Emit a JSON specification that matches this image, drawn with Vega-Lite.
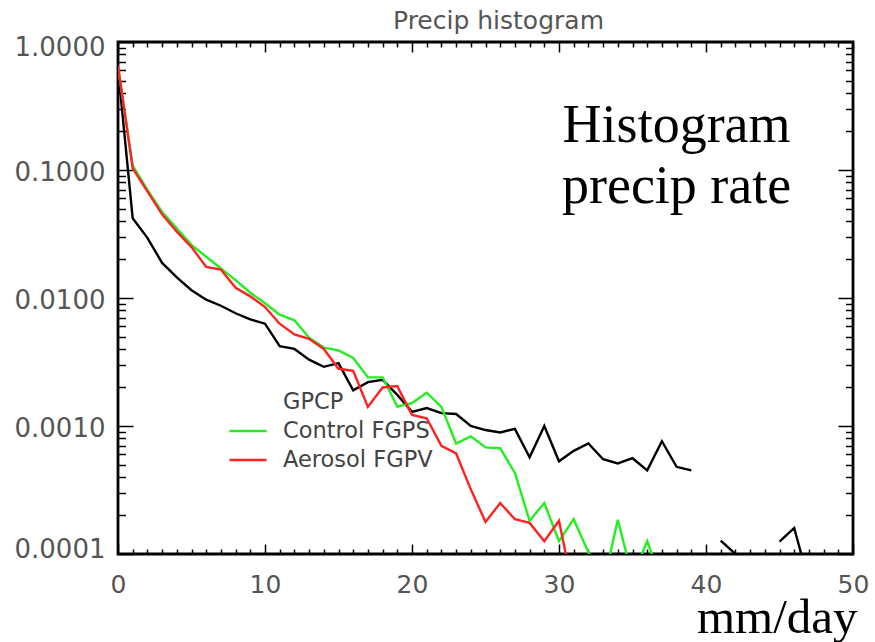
{
  "$schema": "https://vega.github.io/schema/vega-lite/v6.json",
  "width": 735,
  "height": 512,
  "autosize": {"type": "none"},
  "padding": {"left": 118, "top": 42, "right": 22, "bottom": 88},
  "background": "white",
  "title": {
    "text": "Precip histogram",
    "frame": "group",
    "font": "DejaVu Sans",
    "fontSize": 25,
    "fontWeight": "normal",
    "color": "#555555",
    "anchor": "middle",
    "baseline": "alphabetic",
    "offset": 13,
    "dx": 13,
    "dy": 33
  },
  "config": {"view": {"stroke": "black", "strokeWidth": 2.8}},
  "datasets": {
    "hist": [
      {"x": 0, "series": "GPCP", "v": 0.62},
      {"x": 1, "series": "GPCP", "v": 0.042},
      {"x": 2, "series": "GPCP", "v": 0.0295},
      {"x": 3, "series": "GPCP", "v": 0.0188},
      {"x": 4, "series": "GPCP", "v": 0.0145},
      {"x": 5, "series": "GPCP", "v": 0.0115},
      {"x": 6, "series": "GPCP", "v": 0.0097},
      {"x": 7, "series": "GPCP", "v": 0.0087},
      {"x": 8, "series": "GPCP", "v": 0.0076},
      {"x": 9, "series": "GPCP", "v": 0.0068},
      {"x": 10, "series": "GPCP", "v": 0.0063},
      {"x": 11, "series": "GPCP", "v": 0.0042},
      {"x": 12, "series": "GPCP", "v": 0.0040},
      {"x": 13, "series": "GPCP", "v": 0.0033},
      {"x": 14, "series": "GPCP", "v": 0.0029},
      {"x": 15, "series": "GPCP", "v": 0.0031},
      {"x": 16, "series": "GPCP", "v": 0.0019},
      {"x": 17, "series": "GPCP", "v": 0.0022},
      {"x": 18, "series": "GPCP", "v": 0.0023},
      {"x": 19, "series": "GPCP", "v": 0.00175},
      {"x": 20, "series": "GPCP", "v": 0.00129},
      {"x": 21, "series": "GPCP", "v": 0.00138},
      {"x": 22, "series": "GPCP", "v": 0.00126},
      {"x": 23, "series": "GPCP", "v": 0.00124},
      {"x": 24, "series": "GPCP", "v": 0.0010},
      {"x": 25, "series": "GPCP", "v": 0.00093},
      {"x": 26, "series": "GPCP", "v": 0.00089},
      {"x": 27, "series": "GPCP", "v": 0.00095},
      {"x": 28, "series": "GPCP", "v": 0.00057},
      {"x": 29, "series": "GPCP", "v": 0.0010},
      {"x": 30, "series": "GPCP", "v": 0.00053},
      {"x": 31, "series": "GPCP", "v": 0.00064},
      {"x": 32, "series": "GPCP", "v": 0.00073},
      {"x": 33, "series": "GPCP", "v": 0.00055},
      {"x": 34, "series": "GPCP", "v": 0.00051},
      {"x": 35, "series": "GPCP", "v": 0.00056},
      {"x": 36, "series": "GPCP", "v": 0.00045},
      {"x": 37, "series": "GPCP", "v": 0.00076},
      {"x": 38, "series": "GPCP", "v": 0.00048},
      {"x": 39, "series": "GPCP", "v": 0.00045},
      {"x": 40, "series": "GPCP", "v": null},
      {"x": 41, "series": "GPCP", "v": 0.000127},
      {"x": 42, "series": "GPCP", "v": 0.0001},
      {"x": 43, "series": "GPCP", "v": null},
      {"x": 44, "series": "GPCP", "v": null},
      {"x": 45, "series": "GPCP", "v": 0.000125},
      {"x": 46, "series": "GPCP", "v": 0.00016},
      {"x": 47, "series": "GPCP", "v": 0.00006},
      {"x": 0, "series": "Control FGPS", "v": 0.65},
      {"x": 1, "series": "Control FGPS", "v": 0.108},
      {"x": 2, "series": "Control FGPS", "v": 0.070},
      {"x": 3, "series": "Control FGPS", "v": 0.047},
      {"x": 4, "series": "Control FGPS", "v": 0.035},
      {"x": 5, "series": "Control FGPS", "v": 0.026},
      {"x": 6, "series": "Control FGPS", "v": 0.021},
      {"x": 7, "series": "Control FGPS", "v": 0.017},
      {"x": 8, "series": "Control FGPS", "v": 0.0138},
      {"x": 9, "series": "Control FGPS", "v": 0.011},
      {"x": 10, "series": "Control FGPS", "v": 0.0091},
      {"x": 11, "series": "Control FGPS", "v": 0.0074},
      {"x": 12, "series": "Control FGPS", "v": 0.0067},
      {"x": 13, "series": "Control FGPS", "v": 0.0049},
      {"x": 14, "series": "Control FGPS", "v": 0.0041},
      {"x": 15, "series": "Control FGPS", "v": 0.0039},
      {"x": 16, "series": "Control FGPS", "v": 0.0034},
      {"x": 17, "series": "Control FGPS", "v": 0.0024},
      {"x": 18, "series": "Control FGPS", "v": 0.0024},
      {"x": 19, "series": "Control FGPS", "v": 0.00142},
      {"x": 20, "series": "Control FGPS", "v": 0.00151},
      {"x": 21, "series": "Control FGPS", "v": 0.00182},
      {"x": 22, "series": "Control FGPS", "v": 0.00141},
      {"x": 23, "series": "Control FGPS", "v": 0.00073},
      {"x": 24, "series": "Control FGPS", "v": 0.00083},
      {"x": 25, "series": "Control FGPS", "v": 0.00068},
      {"x": 26, "series": "Control FGPS", "v": 0.00067},
      {"x": 27, "series": "Control FGPS", "v": 0.00043},
      {"x": 28, "series": "Control FGPS", "v": 0.000182},
      {"x": 29, "series": "Control FGPS", "v": 0.00025},
      {"x": 30, "series": "Control FGPS", "v": 0.000126},
      {"x": 31, "series": "Control FGPS", "v": 0.000187},
      {"x": 32, "series": "Control FGPS", "v": 0.000103},
      {"x": 33, "series": "Control FGPS", "v": 0.000057},
      {"x": 34, "series": "Control FGPS", "v": 0.000185},
      {"x": 35, "series": "Control FGPS", "v": 0.000066},
      {"x": 36, "series": "Control FGPS", "v": 0.000126},
      {"x": 37, "series": "Control FGPS", "v": 0.00006},
      {"x": 0, "series": "Aerosol FGPV", "v": 0.65},
      {"x": 1, "series": "Aerosol FGPV", "v": 0.103},
      {"x": 2, "series": "Aerosol FGPV", "v": 0.068},
      {"x": 3, "series": "Aerosol FGPV", "v": 0.045},
      {"x": 4, "series": "Aerosol FGPV", "v": 0.033},
      {"x": 5, "series": "Aerosol FGPV", "v": 0.025},
      {"x": 6, "series": "Aerosol FGPV", "v": 0.0175},
      {"x": 7, "series": "Aerosol FGPV", "v": 0.0167},
      {"x": 8, "series": "Aerosol FGPV", "v": 0.0120},
      {"x": 9, "series": "Aerosol FGPV", "v": 0.0103},
      {"x": 10, "series": "Aerosol FGPV", "v": 0.0085},
      {"x": 11, "series": "Aerosol FGPV", "v": 0.0063},
      {"x": 12, "series": "Aerosol FGPV", "v": 0.0052},
      {"x": 13, "series": "Aerosol FGPV", "v": 0.0048},
      {"x": 14, "series": "Aerosol FGPV", "v": 0.0040},
      {"x": 15, "series": "Aerosol FGPV", "v": 0.0028},
      {"x": 16, "series": "Aerosol FGPV", "v": 0.0027},
      {"x": 17, "series": "Aerosol FGPV", "v": 0.00141},
      {"x": 18, "series": "Aerosol FGPV", "v": 0.0020},
      {"x": 19, "series": "Aerosol FGPV", "v": 0.00205},
      {"x": 20, "series": "Aerosol FGPV", "v": 0.00122},
      {"x": 21, "series": "Aerosol FGPV", "v": 0.00115},
      {"x": 22, "series": "Aerosol FGPV", "v": 0.00070},
      {"x": 23, "series": "Aerosol FGPV", "v": 0.00061},
      {"x": 24, "series": "Aerosol FGPV", "v": 0.00032},
      {"x": 25, "series": "Aerosol FGPV", "v": 0.000178},
      {"x": 26, "series": "Aerosol FGPV", "v": 0.00025},
      {"x": 27, "series": "Aerosol FGPV", "v": 0.000187},
      {"x": 28, "series": "Aerosol FGPV", "v": 0.000175},
      {"x": 29, "series": "Aerosol FGPV", "v": 0.000126},
      {"x": 30, "series": "Aerosol FGPV", "v": 0.000182},
      {"x": 31, "series": "Aerosol FGPV", "v": 0.00005}
    ],
    "notes": [
      {"x": 38, "v": 0.1655, "t": "Histogram"},
      {"x": 38, "v": 0.0552, "t": "precip rate"}
    ],
    "keys": [
      {"series": "GPCP"},
      {"series": "Control FGPS"},
      {"series": "Aerosol FGPV"}
    ]
  },
  "layer": [
    {
      "data": {"name": "hist"},
      "mark": {"type": "line", "strokeWidth": 2.4, "clip": true, "invalid": "break-paths-filter-domains"},
      "encoding": {
        "x": {
          "field": "x",
          "type": "quantitative",
          "scale": {"domain": [0, 50], "nice": false, "zero": false},
          "axis": {
            "orient": "bottom",
            "values": [0,1,2,3,4,5,6,7,8,9,10,11,12,13,14,15,16,17,18,19,20,21,22,23,24,25,26,27,28,29,30,31,32,33,34,35,36,37,38,39,40,41,42,43,44,45,46,47,48,49,50],
            "format": "d",
            "labelExpr": "datum.value % 10 === 0 ? datum.label : ''",
            "tickSize": {"condition": {"test": "datum.value % 10 === 0", "value": -10}, "value": -5},
            "tickWidth": 1.5,
            "tickColor": "black",
            "domain": false,
            "grid": false,
            "labelFont": "DejaVu Sans",
            "labelFontSize": 25,
            "labelColor": "#555555",
            "labelPadding": 28,
            "labelOverlap": false,
            "labelFlush": false,
            "title": "mm/day",
            "titleFont": "Liberation Serif",
            "titleFontSize": 49,
            "titleFontWeight": "normal",
            "titleColor": "black",
            "titleAnchor": "end",
            "titleAlign": "right",
            "titleBaseline": "alphabetic",
            "titleX": 739,
            "titleY": 78
          }
        },
        "y": {
          "field": "v",
          "type": "quantitative",
          "scale": {"type": "log", "domain": [0.0001, 1], "nice": false},
          "axis": {
            "orient": "left",
            "values": [0.0001,0.0002,0.0003,0.0004,0.0005,0.0006,0.0007,0.0008,0.0009,0.001,0.002,0.003,0.004,0.005,0.006,0.007,0.008,0.009,0.01,0.02,0.03,0.04,0.05,0.06,0.07,0.08,0.09,0.1,0.2,0.3,0.4,0.5,0.6,0.7,0.8,0.9,1],
            "labelExpr": "abs(log(datum.value) / LN10 - round(log(datum.value) / LN10)) < 0.001 ? format(datum.value, '.4f') : ''",
            "tickSize": {"condition": {"test": "abs(log(datum.value) / LN10 - round(log(datum.value) / LN10)) < 0.001", "value": -15}, "value": -7.5},
            "tickWidth": 1.5,
            "tickColor": "black",
            "domain": false,
            "grid": false,
            "labelFont": "DejaVu Sans",
            "labelFontSize": 26,
            "labelColor": "#555555",
            "labelPadding": 28,
            "labelOverlap": false,
            "labelFlush": false,
            "labelBaseline": "middle",
            "labelOffset": {"condition": [{"test": "datum.value >= 0.999", "value": 5}, {"test": "datum.value <= 0.00011", "value": -5}], "value": 2},
            "title": null
          }
        },
        "color": {
          "field": "series",
          "type": "nominal",
          "scale": {"domain": ["GPCP", "Control FGPS", "Aerosol FGPV"], "range": ["#000000", "#22ee22", "#ff2222"]},
          "legend": null
        }
      }
    },
    {
      "data": {"name": "notes"},
      "mark": {"type": "text", "font": "Liberation Serif", "fontSize": 54, "align": "center", "baseline": "alphabetic", "color": "black"},
      "encoding": {
        "x": {
          "field": "x",
          "type": "quantitative",
          "axis": {
            "orient": "top",
            "values": [0,1,2,3,4,5,6,7,8,9,10,11,12,13,14,15,16,17,18,19,20,21,22,23,24,25,26,27,28,29,30,31,32,33,34,35,36,37,38,39,40,41,42,43,44,45,46,47,48,49,50],
            "labels": false,
            "tickSize": {"condition": {"test": "datum.value % 10 === 0", "value": -10}, "value": -5},
            "tickWidth": 1.5,
            "tickColor": "black",
            "domain": false,
            "grid": false,
            "minExtent": 0,
            "maxExtent": 0,
            "title": null
          }
        },
        "y": {
          "field": "v",
          "type": "quantitative",
          "axis": {
            "orient": "right",
            "values": [0.0001,0.0002,0.0003,0.0004,0.0005,0.0006,0.0007,0.0008,0.0009,0.001,0.002,0.003,0.004,0.005,0.006,0.007,0.008,0.009,0.01,0.02,0.03,0.04,0.05,0.06,0.07,0.08,0.09,0.1,0.2,0.3,0.4,0.5,0.6,0.7,0.8,0.9,1],
            "labels": false,
            "tickSize": {"condition": {"test": "abs(log(datum.value) / LN10 - round(log(datum.value) / LN10)) < 0.001", "value": -15}, "value": -7.5},
            "tickWidth": 1.5,
            "tickColor": "black",
            "domain": false,
            "grid": false,
            "minExtent": 0,
            "maxExtent": 0,
            "title": null
          }
        },
        "text": {"field": "t", "type": "nominal"}
      }
    },
    {
      "data": {"name": "keys"},
      "mark": {"type": "line", "strokeWidth": 2.4},
      "encoding": {
        "color": {
          "field": "series",
          "type": "nominal",
          "scale": {"domain": ["GPCP", "Control FGPS", "Aerosol FGPV"], "range": ["#ffffff", "#22ee22", "#ff2222"]},
          "legend": {
            "orient": "none",
            "legendX": 110,
            "legendY": 349,
            "title": null,
            "padding": 0,
            "symbolType": "stroke",
            "symbolSize": 1369,
            "symbolStrokeWidth": 2.4,
            "clipHeight": 22,
            "rowPadding": 6,
            "labelFont": "DejaVu Sans",
            "labelFontSize": 22.5,
            "labelColor": "#444444",
            "labelOffset": 15
          }
        }
      }
    }
  ],
  "resolve": {
    "scale": {"color": "independent"},
    "axis": {"x": "independent", "y": "independent"}
  }
}
